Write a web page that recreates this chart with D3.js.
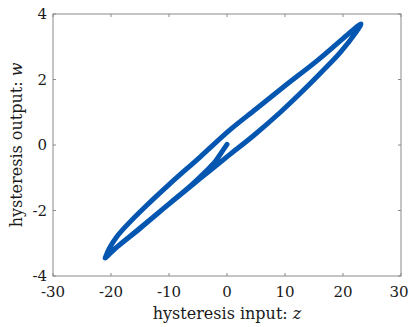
<!DOCTYPE html>
<html>
<head>
<meta charset="utf-8">
<script src="https://cdn.jsdelivr.net/npm/d3@7"></script>
<style>
  body { margin: 0; background: #fff; }
</style>
</head>
<body>
<script>
const width = 409
const height = 327

// initial (virgin) curve from the origin down to the first reversal
const initZ = [0, -1, -2, -3.5, -6, -10, -15, -19, -21]
const initW = [0.02, -0.24, -0.5, -0.78, -1.2, -1.8, -2.55, -3.12, -3.45]

// ascending branch, bottom-left tip to top-right tip
const lowerZ = [-21, -18.5, -15.5, -9.8, -4.6, 0.57, 4.6, 9.2, 12.6, 16.1, 19.5, 22.1, 23.1]
const lowerW = [-3.45, -3.04, -2.61, -1.77, -1.02, -0.28, 0.29, 1.0, 1.57, 2.19, 2.82, 3.41, 3.7]

// descending branch, top-right tip back to bottom-left tip
const upperZ = [23.1, 20, 15.5, 10, 5, 0.5, -4.6, -10, -14, -17, -19, -20.3, -21]
const upperW = [3.7, 3.25, 2.57, 1.81, 1.1, 0.46, -0.36, -1.21, -1.87, -2.4, -2.8, -3.16, -3.45]

const xTicks = [-30, -20, -10, 0, 10, 20, 30]
const yTicks = [-4, -2, 0, 2, 4]

const colors = {
    line: '#0556b0',
    axis: '#8a8a8a',
    text: '#1a1a1a'
}

const font = '"DejaVu Serif", "Liberation Serif", serif'
const margin = {left: 53, right: 8, top: 14, bottom: 51}

const x = d3.scaleLinear().domain([-30, 30]).range([margin.left, width - margin.right])
const y = d3.scaleLinear().domain([-4, 4]).range([height - margin.bottom, margin.top])

const svg = d3.select('body')
    .append('svg')
    .attr('width', width)
    .attr('height', height)
    .style('font-family', font)

const toPoints = (zs, ws) => zs.map((z, i) => [z, ws[i]])
const pts = [
    ...toPoints(initZ, initW),
    ...toPoints(lowerZ, lowerW).slice(1),
    ...toPoints(upperZ, upperW).slice(1)
]

const line = d3.line()
    .x(d => x(d[0]))
    .y(d => y(d[1]))
    .curve(d3.curveCatmullRom.alpha(0.5))

svg.append('path')
    .datum(pts)
    .attr('d', line)
    .attr('fill', 'none')
    .attr('stroke', colors.line)
    .attr('stroke-width', 5)
    .attr('stroke-linejoin', 'round')
    .attr('stroke-linecap', 'round')

// box with inward ticks on all four sides
const x0 = x.range()[0], x1 = x.range()[1]
const y0 = y.range()[0], y1 = y.range()[1]
const tl = 3

svg.append('rect')
    .attr('x', x0).attr('y', y1)
    .attr('width', x1 - x0).attr('height', y0 - y1)
    .attr('fill', 'none')
    .attr('stroke', colors.axis)
    .attr('stroke-width', 1)

const ticks = svg.append('g').attr('stroke', colors.axis).attr('stroke-width', 1)
xTicks.forEach(t => {
    ticks.append('line').attr('x1', x(t)).attr('x2', x(t)).attr('y1', y0).attr('y2', y0 - tl)
    ticks.append('line').attr('x1', x(t)).attr('x2', x(t)).attr('y1', y1).attr('y2', y1 + tl)
})
yTicks.forEach(t => {
    ticks.append('line').attr('y1', y(t)).attr('y2', y(t)).attr('x1', x0).attr('x2', x0 + tl)
    ticks.append('line').attr('y1', y(t)).attr('y2', y(t)).attr('x1', x1).attr('x2', x1 - tl)
})

// last label sits against the right edge so it is not clipped
const lastTick = xTicks[xTicks.length - 1]
svg.append('g')
    .selectAll('text')
    .data(xTicks)
    .enter().append('text')
    .attr('x', d => d === lastTick ? width - 0.5 : x(d))
    .attr('y', 297)
    .attr('text-anchor', d => d === lastTick ? 'end' : 'middle')
    .attr('font-size', 15)
    .attr('fill', colors.text)
    .text(d => d)

svg.append('g')
    .selectAll('text')
    .data(yTicks)
    .enter().append('text')
    .attr('x', x0 - 6)
    .attr('y', d => y(d) + 5)
    .attr('text-anchor', 'end')
    .attr('font-size', 15)
    .attr('fill', colors.text)
    .text(d => d)

const xLabel = svg.append('text')
    .attr('x', (x0 + x1) / 2)
    .attr('y', 319)
    .attr('text-anchor', 'middle')
    .attr('font-size', 16)
    .attr('fill', colors.text)
xLabel.append('tspan').text('hysteresis input: ')
xLabel.append('tspan').attr('font-style', 'italic').text('z')

const yLabel = svg.append('text')
    .attr('transform', `translate(22,${(y0 + y1) / 2}) rotate(-90)`)
    .attr('text-anchor', 'middle')
    .attr('font-size', 16)
    .attr('fill', colors.text)
yLabel.append('tspan').text('hysteresis output: ')
yLabel.append('tspan').attr('font-style', 'italic').text('w')
</script>
</body>
</html>
